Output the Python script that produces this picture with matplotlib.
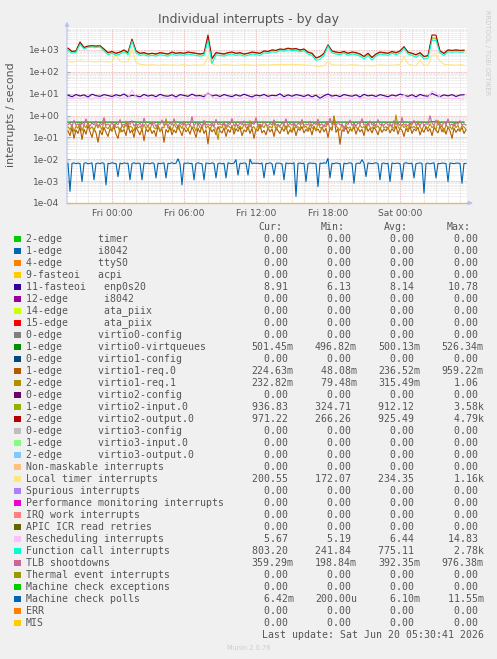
import matplotlib
matplotlib.use("Agg")
import matplotlib.pyplot as plt
import matplotlib.dates as mdates
from matplotlib.patches import Rectangle
from matplotlib.ticker import FixedLocator, FuncFormatter, LogLocator, NullFormatter
import pandas as pd

W, H = 497, 659

# ---------------- data ----------------
t20 = pd.date_range("2026-06-18 20:20", periods=100, freq="20min")
t10 = pd.date_range("2026-06-18 20:20", periods=200, freq="10min")

virtio2_output = [1200, 850, 900, 2300, 1300, 1500, 1550, 1500, 1550, 1100,
                  750, 850, 700, 800, 1000, 750, 3100, 900, 700, 750,
                  650, 700, 650, 750, 700, 650, 800, 700, 750, 700,
                  800, 750, 700, 650, 700, 4790, 400, 750, 700, 650,
                  750, 800, 700, 750, 650, 700, 800, 750, 700, 900,
                  850, 1000, 950, 1100, 1050, 1200, 1100, 1150, 1000, 1100,
                  800, 700, 430, 500, 700, 1700, 900, 800, 750, 850,
                  700, 800, 750, 650, 500, 700, 450, 650, 800, 750,
                  700, 850, 750, 900, 1400, 800, 700, 600, 750, 500,
                  550, 4790, 4700, 900, 700, 1000, 950, 1000, 950, 971]

virtio2_input = [1150, 820, 880, 2100, 1250, 1450, 1500, 1450, 1500, 1050,
                 720, 820, 680, 780, 960, 720, 2900, 870, 680, 720,
                 630, 680, 630, 720, 680, 630, 770, 680, 720, 680,
                 770, 720, 680, 630, 680, 3580, 390, 720, 680, 630,
                 720, 770, 680, 720, 630, 680, 770, 720, 680, 870,
                 820, 960, 920, 1060, 1010, 1150, 1060, 1110, 960, 1060,
                 770, 680, 420, 480, 680, 1600, 870, 770, 720, 820,
                 680, 770, 720, 630, 480, 680, 440, 630, 770, 720,
                 680, 820, 720, 870, 1350, 770, 680, 580, 720, 480,
                 530, 3500, 3400, 870, 680, 960, 920, 960, 920, 937]

function_call = [1000, 700, 760, 1800, 1100, 1300, 1350, 1300, 1350, 900,
                 600, 700, 560, 650, 820, 600, 2500, 720, 560, 600,
                 520, 560, 520, 600, 560, 520, 650, 560, 600, 560,
                 650, 600, 560, 520, 560, 2600, 242, 600, 560, 520,
                 600, 650, 560, 600, 520, 560, 650, 600, 560, 720,
                 700, 820, 780, 920, 870, 1000, 920, 960, 820, 920,
                 650, 560, 330, 380, 560, 1500, 720, 650, 600, 700,
                 560, 650, 600, 520, 380, 560, 340, 520, 650, 600,
                 560, 700, 600, 720, 1200, 650, 560, 460, 600, 380,
                 420, 2780, 2700, 720, 560, 820, 780, 820, 780, 803]

local_timer = [290, 280, 300, 310, 290, 300, 290, 280, 300, 290,
               280, 290, 600, 300, 280, 290, 1160, 260, 220, 210,
               200, 210, 200, 195, 210, 200, 205, 195, 200, 210,
               200, 195, 205, 200, 210, 500, 230, 200, 195, 210,
               205, 200, 195, 200, 210, 205, 200, 195, 205, 210,
               200, 215, 210, 220, 215, 210, 220, 215, 210, 205,
               200, 195, 180, 175, 190, 300, 210, 200, 205, 195,
               200, 210, 205, 195, 185, 200, 180, 195, 205, 200,
               195, 200, 205, 210, 500, 230, 200, 190, 330, 200,
               195, 560, 600, 300, 220, 210, 205, 200, 210, 200]

enp0s20 = [8.5, 7.2, 9.1, 7.8, 8.8, 7.0, 9.4, 8.1, 7.5, 9.0,
           8.2, 7.4, 8.9, 7.9, 9.6, 7.3, 8.4, 8.0, 7.1, 9.2,
           7.7, 8.6, 7.2, 9.3, 8.0, 7.6, 8.8, 7.0, 9.0, 8.3,
           7.5, 9.5, 7.9, 8.2, 7.2, 10.78, 7.8, 8.7, 7.4, 9.1,
           8.0, 7.3, 8.9, 7.7, 9.4, 8.1, 7.0, 8.6, 7.9, 9.2,
           7.5, 8.4, 8.0, 9.8, 7.2, 8.8, 7.6, 9.0, 8.3, 7.4,
           8.9, 7.1, 8.5, 6.13, 8.0, 9.6, 7.7, 8.4, 7.3, 9.1,
           8.2, 7.6, 8.8, 7.0, 9.3, 7.9, 8.5, 7.4, 9.0, 8.1,
           7.2, 8.7, 7.8, 9.5, 8.3, 7.5, 8.9, 7.1, 9.2, 8.0,
           7.6, 10.2, 8.4, 7.3, 8.8, 7.9, 9.0, 7.4, 8.6, 8.91]

rescheduling = [6.2, 5.8, 6.5, 5.6, 6.9, 6.0, 5.5, 6.3, 5.9, 6.6,
                5.7, 6.1, 7.5, 5.8, 6.4, 6.0, 14.83, 6.8, 5.6, 6.2,
                5.9, 6.5, 5.5, 6.1, 6.7, 5.8, 6.3, 5.6, 6.0, 6.6,
                5.7, 6.2, 5.9, 6.4, 5.5, 12.0, 6.9, 5.8, 6.3, 5.6,
                6.1, 6.6, 5.7, 6.0, 6.4, 5.9, 5.5, 6.2, 6.8, 5.8,
                6.3, 5.6, 6.0, 6.5, 5.7, 6.2, 5.9, 6.7, 5.6, 6.1,
                5.8, 6.4, 5.2, 5.5, 6.0, 7.8, 6.2, 5.7, 6.5, 5.9,
                6.1, 5.6, 6.3, 5.8, 6.6, 5.5, 6.0, 6.2, 5.7, 6.4,
                5.9, 6.1, 5.6, 6.3, 8.5, 5.8, 6.5, 5.7, 6.0, 5.6,
                6.2, 13.0, 11.0, 6.8, 5.9, 6.3, 5.7, 6.1, 5.8, 5.67]

virtqueues = [0.500, 0.501, 0.500, 0.499, 0.500, 0.502, 0.500, 0.501, 0.499, 0.500,
              0.500, 0.501, 0.500, 0.500, 0.499, 0.500, 0.526, 0.500, 0.501, 0.500,
              0.499, 0.500, 0.500, 0.501, 0.500, 0.499, 0.500, 0.501, 0.500, 0.500,
              0.500, 0.499, 0.501, 0.500, 0.500, 0.510, 0.500, 0.499, 0.500, 0.501,
              0.500, 0.500, 0.499, 0.500, 0.501, 0.500, 0.500, 0.499, 0.501, 0.500,
              0.500, 0.501, 0.500, 0.499, 0.500, 0.500, 0.501, 0.500, 0.499, 0.500,
              0.501, 0.500, 0.497, 0.500, 0.500, 0.505, 0.500, 0.499, 0.501, 0.500,
              0.500, 0.500, 0.499, 0.501, 0.500, 0.500, 0.499, 0.500, 0.501, 0.500,
              0.500, 0.499, 0.500, 0.501, 0.504, 0.500, 0.499, 0.500, 0.501, 0.500,
              0.500, 0.515, 0.512, 0.500, 0.499, 0.501, 0.500, 0.500, 0.499, 0.501]

tlb = [0.38, 0.45, 0.32, 0.60, 0.36, 0.42, 0.30, 0.48, 0.35, 0.70, 0.40, 0.33, 0.46, 0.37, 0.55, 0.31, 0.43, 0.38, 0.80, 0.36,
       0.41, 0.34, 0.50, 0.29, 0.44, 0.38, 0.65, 0.35, 0.40, 0.32, 0.47, 0.39, 0.58, 0.33, 0.42, 0.36, 0.45, 0.30, 0.75, 0.38,
       0.34, 0.46, 0.37, 0.52, 0.31, 0.43, 0.39, 0.62, 0.35, 0.41, 0.33, 0.48, 0.36, 0.70, 0.40, 0.32, 0.45, 0.38, 0.55, 0.34,
       0.42, 0.36, 0.90, 0.33, 0.47, 0.39, 0.44, 0.30, 0.60, 0.37, 0.41, 0.35, 0.49, 0.32, 0.66, 0.38, 0.43, 0.36, 0.51, 0.31,
       0.45, 0.38, 0.72, 0.34, 0.40, 0.33, 0.48, 0.37, 0.57, 0.35, 0.42, 0.30, 0.46, 0.39, 0.80, 0.36, 0.41, 0.34, 0.53, 0.38,
       0.33, 0.44, 0.37, 0.63, 0.35, 0.40, 0.32, 0.47, 0.38, 0.70, 0.34, 0.43, 0.36, 0.50, 0.31, 0.45, 0.39, 0.60, 0.35, 0.41,
       0.37, 0.55, 0.33, 0.46, 0.38, 0.68, 0.35, 0.42, 0.30, 0.49, 0.36, 0.75, 0.39, 0.43, 0.34, 0.52, 0.37, 0.41, 0.20, 0.45,
       0.38, 0.62, 0.35, 0.44, 0.32, 0.48, 0.39, 0.71, 0.36, 0.42, 0.34, 0.56, 0.37, 0.46, 0.33, 0.65, 0.38, 0.40, 0.35, 0.50,
       0.36, 0.43, 0.31, 0.58, 0.39, 0.45, 0.34, 0.82, 0.37, 0.41, 0.33, 0.49, 0.38, 0.60, 0.35, 0.44, 0.32, 0.54, 0.36, 0.42,
       0.39, 0.976, 0.45, 0.34, 0.62, 0.37, 0.43, 0.33, 0.52, 0.38, 0.70, 0.35, 0.41, 0.32, 0.47, 0.40, 0.58, 0.36, 0.42, 0.359]

req1 = [0.30, 0.22, 0.38, 0.18, 0.33, 0.26, 0.45, 0.20, 0.35, 0.28, 0.50, 0.24, 0.31, 0.19, 0.40, 0.27, 0.36, 0.21, 0.60, 0.29,
        0.25, 0.34, 0.20, 0.42, 0.28, 0.31, 0.17, 0.37, 0.26, 0.55, 0.23, 0.33, 0.29, 0.19, 0.44, 0.27, 0.32, 0.22, 0.39, 0.25,
        0.35, 0.21, 0.48, 0.28, 0.24, 0.38, 0.18, 0.30, 0.27, 0.70, 0.26, 0.33, 0.20, 0.41, 0.29, 0.23, 0.36, 0.25, 0.46, 0.30,
        0.22, 0.37, 0.27, 0.31, 0.19, 0.43, 0.28, 0.24, 0.52, 0.26, 0.34, 0.21, 0.39, 0.30, 0.25, 0.08, 0.32, 0.27, 0.45, 0.23,
        0.36, 0.28, 0.30, 0.20, 0.47, 0.26, 0.33, 0.24, 0.40, 0.29, 0.22, 0.58, 0.27, 0.31, 0.19, 0.38, 0.25, 0.35, 0.28, 0.42,
        0.24, 0.32, 0.27, 0.49, 0.21, 0.36, 0.29, 0.26, 0.40, 0.23, 0.34, 0.30, 0.18, 0.44, 0.27, 0.31, 0.25, 0.65, 0.28, 0.33,
        0.22, 0.39, 0.26, 0.30, 0.20, 0.46, 0.28, 0.25, 0.36, 0.31, 0.52, 0.24, 0.29, 0.90, 0.33, 0.27, 0.21, 0.41, 0.28, 0.35,
        0.26, 0.30, 0.19, 0.44, 0.29, 0.24, 0.37, 0.27, 0.32, 0.22, 0.48, 0.30, 0.25, 0.39, 0.28, 0.34, 0.21, 0.43, 0.27, 0.31,
        0.24, 0.38, 0.29, 0.26, 1.06, 0.31, 0.23, 0.40, 0.28, 0.35, 0.20, 0.45, 0.27, 0.32, 0.25, 0.55, 0.29, 0.22, 0.37, 0.30,
        0.26, 0.42, 0.28, 0.33, 0.21, 0.60, 0.29, 0.35, 0.17, 0.39, 0.27, 0.31, 0.23, 0.46, 0.28, 0.36, 0.20, 0.34, 0.30, 0.233]

req0 = [0.20, 0.12, 0.28, 0.09, 0.22, 0.15, 0.30, 0.08, 0.24, 0.14, 0.35, 0.18, 0.10, 0.26, 0.16, 0.06, 0.21, 0.13, 0.29, 0.17,
        0.11, 0.25, 0.19, 0.32, 0.14, 0.09, 0.27, 0.18, 0.23, 0.12, 0.40, 0.16, 0.22, 0.10, 0.30, 0.20, 0.13, 0.26, 0.07, 0.24,
        0.18, 0.28, 0.15, 0.21, 0.11, 0.34, 0.19, 0.25, 0.06, 0.23, 0.17, 0.29, 0.13, 0.22, 0.16, 0.36, 0.20, 0.12, 0.27, 0.18,
        0.24, 0.14, 0.30, 0.19, 0.10, 0.26, 0.17, 0.33, 0.15, 0.22, 0.05, 0.28, 0.18, 0.24, 0.13, 0.31, 0.20, 0.16, 0.27, 0.11,
        0.23, 0.17, 0.35, 0.14, 0.25, 0.19, 0.29, 0.12, 0.22, 0.18, 0.32, 0.15, 0.26, 0.09, 0.24, 0.20, 0.37, 0.16, 0.21, 0.13,
        0.28, 0.18, 0.24, 0.11, 0.30, 0.20, 0.15, 0.27, 0.19, 0.34, 0.14, 0.22, 0.17, 0.29, 0.12, 0.25, 0.21, 0.31, 0.16, 0.23,
        0.19, 0.27, 0.13, 0.33, 0.20, 0.24, 0.16, 0.30, 0.18, 0.26, 0.10, 0.28, 0.21, 0.959, 0.17, 0.25, 0.048, 0.22, 0.19, 0.29,
        0.15, 0.24, 0.20, 0.31, 0.14, 0.27, 0.18, 0.23, 0.12, 0.35, 0.19, 0.26, 0.16, 0.29, 0.21, 0.13, 0.28, 0.17, 0.24, 0.20,
        0.30, 0.16, 0.25, 0.19, 0.33, 0.14, 0.27, 0.21, 0.11, 0.26, 0.18, 0.32, 0.15, 0.24, 0.20, 0.29, 0.13, 0.23, 0.17, 0.31,
        0.19, 0.25, 0.12, 0.28, 0.21, 0.16, 0.34, 0.18, 0.26, 0.14, 0.30, 0.20, 0.09, 0.27, 0.17, 0.24, 0.19, 0.29, 0.15, 0.225]

# machine check polls, in units of 1e-3 per second
mc_polls_milli = [6.6, 0.34, 6.5, 6.8, 6.3, 6.7, 6.4, 0.95, 6.6, 6.9, 6.2, 6.5, 6.8, 1.15, 6.4, 6.7, 6.3, 6.9, 6.5, 0.68,
                  6.6, 6.3, 7.0, 6.5, 6.4, 1.6, 6.7, 6.2, 6.8, 6.5, 6.6, 1.15, 6.4, 6.9, 6.3, 6.7, 6.5, 1.15, 6.8, 6.4,
                  6.6, 6.2, 6.9, 6.5, 1.4, 6.7, 6.3, 6.6, 6.8, 1.4, 6.5, 6.4, 7.0, 6.3, 6.6, 10.5, 6.2, 0.68, 6.7, 6.5,
                  6.8, 6.3, 6.6, 1.15, 6.4, 6.9, 6.5, 6.2, 1.15, 6.7, 6.6, 6.3, 6.8, 6.5, 1.4, 6.4, 6.7, 6.2, 6.6, 1.4,
                  6.9, 6.5, 6.3, 6.7, 9.5, 1.9, 6.6, 6.4, 6.8, 6.5, 1.9, 10.0, 6.3, 6.7, 6.5, 6.6, 6.2, 6.8, 1.4, 6.5,
                  6.4, 6.9, 6.3, 1.9, 6.6, 6.7, 6.5, 6.2, 1.15, 6.8, 6.4, 6.6, 6.3, 6.9, 0.2, 6.5, 6.7, 6.4, 6.6, 0.95,
                  6.3, 6.8, 6.5, 6.6, 6.2, 0.56, 6.7, 6.4, 6.9, 6.5, 11.0, 1.4, 6.6, 6.3, 6.8, 6.5, 6.4, 1.15, 6.7, 6.2,
                  6.6, 6.9, 6.5, 0.8, 6.3, 6.7, 6.4, 9.5, 6.6, 1.6, 6.8, 6.5, 6.3, 6.6, 6.9, 6.4, 1.15, 6.5, 6.7, 6.2,
                  6.6, 0.95, 6.8, 6.4, 6.5, 6.7, 6.3, 1.15, 6.6, 6.9, 6.5, 6.4, 6.7, 1.4, 6.3, 6.6, 6.8, 6.5, 0.28, 6.4,
                  6.7, 6.2, 6.6, 6.9, 1.4, 6.5, 6.3, 6.7, 6.6, 6.4, 0.95, 6.8, 6.5, 6.3, 6.6, 6.7, 6.4, 0.8, 6.5, 6.42]

legend_labels = ["2-edge      timer", "1-edge      i8042", "4-edge      ttyS0",
                 "9-fasteoi   acpi", "11-fasteoi   enp0s20", "12-edge      i8042",
                 "14-edge      ata_piix", "15-edge      ata_piix",
                 "0-edge      virtio0-config", "1-edge      virtio0-virtqueues",
                 "0-edge      virtio1-config", "1-edge      virtio1-req.0",
                 "2-edge      virtio1-req.1", "0-edge      virtio2-config",
                 "1-edge      virtio2-input.0", "2-edge      virtio2-output.0",
                 "0-edge      virtio3-config", "1-edge      virtio3-input.0",
                 "2-edge      virtio3-output.0", "Non-maskable interrupts",
                 "Local timer interrupts", "Spurious interrupts",
                 "Performance monitoring interrupts", "IRQ work interrupts",
                 "APIC ICR read retries", "Rescheduling interrupts",
                 "Function call interrupts", "TLB shootdowns",
                 "Thermal event interrupts", "Machine check exceptions",
                 "Machine check polls", "ERR", "MIS"]

legend_colors = ["#00CC00", "#0066B3", "#FF8000", "#FFCC00", "#330099", "#990099",
                 "#CCFF00", "#FF0000", "#808080", "#008F00", "#00487D", "#B35A00",
                 "#B38F00", "#6B006B", "#8FB300", "#B30000", "#BEBEBE", "#80FF80",
                 "#80C9FF", "#FFC080", "#FFE680", "#AA80FF", "#EE00CC", "#FF8080",
                 "#666600", "#FFBFFF", "#00FFCC", "#CC6699", "#999900", "#00CC00",
                 "#0066B3", "#FF8000", "#FFCC00"]

cur_vals = ["0.00", "0.00", "0.00", "0.00", "8.91", "0.00", "0.00", "0.00", "0.00",
            "501.45m", "0.00", "224.63m", "232.82m", "0.00", "936.83", "971.22",
            "0.00", "0.00", "0.00", "0.00", "200.55", "0.00", "0.00", "0.00", "0.00",
            "5.67", "803.20", "359.29m", "0.00", "0.00", "6.42m", "0.00", "0.00"]
min_vals = ["0.00", "0.00", "0.00", "0.00", "6.13", "0.00", "0.00", "0.00", "0.00",
            "496.82m", "0.00", "48.08m", "79.48m", "0.00", "324.71", "266.26",
            "0.00", "0.00", "0.00", "0.00", "172.07", "0.00", "0.00", "0.00", "0.00",
            "5.19", "241.84", "198.84m", "0.00", "0.00", "200.00u", "0.00", "0.00"]
avg_vals = ["0.00", "0.00", "0.00", "0.00", "8.14", "0.00", "0.00", "0.00", "0.00",
            "500.13m", "0.00", "236.52m", "315.49m", "0.00", "912.12", "925.49",
            "0.00", "0.00", "0.00", "0.00", "234.35", "0.00", "0.00", "0.00", "0.00",
            "6.44", "775.11", "392.35m", "0.00", "0.00", "6.10m", "0.00", "0.00"]
max_vals = ["0.00", "0.00", "0.00", "0.00", "10.78", "0.00", "0.00", "0.00", "0.00",
            "526.34m", "0.00", "959.22m", "1.06", "0.00", "3.58k", "4.79k",
            "0.00", "0.00", "0.00", "0.00", "1.16k", "0.00", "0.00", "0.00", "0.00",
            "14.83", "2.78k", "976.38m", "0.00", "0.00", "11.55m", "0.00", "0.00"]

xtick_times = ["2026-06-19 00:00", "2026-06-19 06:00", "2026-06-19 12:00",
               "2026-06-19 18:00", "2026-06-20 00:00"]
ytick_values = [1e-4, 1e-3, 1e-2, 1e-1, 1e0, 1e1, 1e2, 1e3]

# ---------------- figure ----------------
BG = "#F0F0F0"
TXT = "#555555"
fig = plt.figure(figsize=(W / 100, H / 100), dpi=100, facecolor=BG)

def fx(x):
    return x / W

def fy(y):
    return 1 - y / H

ax = fig.add_axes([fx(67), fy(203), 400 / W, 175 / H])
ax.set_facecolor("white")
ax.set_yscale("log")
ax.set_ylim(1e-4, 1e4)
ax.set_xlim(pd.Timestamp("2026-06-18 20:15"), pd.Timestamp("2026-06-20 05:35"))

# grid
ax.xaxis.set_major_locator(FixedLocator(mdates.date2num(pd.to_datetime(xtick_times))))
ax.xaxis.set_major_formatter(mdates.DateFormatter("%a %H:%M"))
ax.xaxis.set_minor_locator(mdates.HourLocator())
ax.yaxis.set_major_locator(FixedLocator(ytick_values))
ax.yaxis.set_major_formatter(FuncFormatter(lambda v, p: f"{v:.0e}"))
ax.yaxis.set_minor_locator(LogLocator(base=10, subs=(2, 3, 4, 5, 6, 7, 8, 9), numticks=20))
ax.yaxis.set_minor_formatter(NullFormatter())

ax.grid(which="minor", axis="y", color="#D6D6D6", linestyle=(0, (1, 1)), lw=0.5)
ax.grid(which="minor", axis="x", color="#DCCACA", linestyle=(0, (1, 1)), lw=0.5)
ax.grid(which="major", axis="x", color="#E4A4A4", linestyle=(0, (1, 1)), lw=0.6)
ax.grid(which="major", axis="y", color="#E4A4A4", linestyle=(0, (1, 1)), lw=0.6)
ax.set_axisbelow(True)

for s in ax.spines.values():
    s.set_visible(False)

ax.tick_params(axis="y", which="major", direction="in", length=2, color="#AAAAAA",
               labelsize=6.6, labelcolor=TXT, pad=5.5)
ax.tick_params(axis="y", which="minor", direction="in", length=1, color="#CCCCCC")
ax.tick_params(axis="x", which="both", length=0, labelsize=6.6, labelcolor=TXT, pad=4.5)

# series, drawn in legend order (later ones on top)
lw = 0.8
ax.plot(t20, enp0s20, color="#330099", lw=lw, zorder=4)
ax.plot(t20, virtqueues, color="#008F00", lw=0.9, zorder=9)
ax.plot(t10, req0, color="#B35A00", lw=lw, zorder=11)
ax.plot(t10, req1, color="#B38F00", lw=lw, zorder=12)
ax.plot(t20, virtio2_input, color="#8FB300", lw=lw, zorder=14)
ax.plot(t20, virtio2_output, color="#B30000", lw=lw, zorder=15)
ax.plot(t20, local_timer, color="#FFE680", lw=lw, zorder=20)
ax.plot(t20, rescheduling, color="#FFBFFF", lw=lw, zorder=25)
ax.plot(t20, function_call, color="#00FFCC", lw=lw, zorder=26)
ax.plot(t10, tlb, color="#CC6699", lw=lw, zorder=27)
ax.plot(t10, [v * 1e-3 for v in mc_polls_milli], color="#0066B3", lw=lw, zorder=30)

# zero-valued series clip onto the floor of the graph
ax.axhline(1e-4, color="#DDB878", lw=1.0, zorder=31, clip_on=False)

# axis arrows
AX_C = "#B8C2EE"
ax.annotate("", xy=(0, 1.036), xytext=(0, 0), xycoords="axes fraction",
            arrowprops=dict(arrowstyle="-|>", color=AX_C, lw=0.8, mutation_scale=6,
                            shrinkA=0, shrinkB=0), annotation_clip=False)
ax.annotate("", xy=(1.015, 0), xytext=(1.0, 0), xycoords="axes fraction",
            arrowprops=dict(arrowstyle="-|>", color=AX_C, lw=0.8, mutation_scale=6,
                            shrinkA=0, shrinkB=0), annotation_clip=False)

# titles & labels
fig.text(fx(248.5), fy(19), "Individual interrupts - by day", ha="center", va="center",
         fontsize=9, color=TXT, family="DejaVu Sans")
fig.text(fx(11), fy(115), "interrupts / second", ha="center", va="center",
         rotation=90, fontsize=7.9, color=TXT, family="DejaVu Sans")
fig.text(fx(487), fy(53), "RRDTOOL / TOBI OETIKER", ha="center", va="center",
         rotation=270, fontsize=4.8, color="#CCCCCC", family="DejaVu Sans")
fig.text(fx(248.5), fy(648), "Munin 2.0.76", ha="center", va="center",
         fontsize=4.8, color="#CCCCCC", family="DejaVu Sans")

# legend
MONO = "DejaVu Sans Mono"
FS = 7.1
for x, h in zip([258, 321, 384, 447], ["Cur:", "Min:", "Avg:", "Max:"]):
    fig.text(fx(x), fy(227), h, ha="left", va="center", fontsize=FS, color=TXT, family=MONO)

def fmt(s):
    if s[-1].isalpha():
        return f"{s[:-1]:>6}{s[-1]}"
    return f"{s:>6} "

for k, (lab, col) in enumerate(zip(legend_labels, legend_colors)):
    y = 239 + 12 * k
    fig.patches.append(Rectangle((fx(14), fy(y + 3.3)), 6.5 / W, 6.5 / H, transform=fig.transFigure,
                                 facecolor=col, edgecolor="none"))
    fig.text(fx(26), fy(y), lab, ha="left", va="center", fontsize=FS, color=TXT, family=MONO)
    for x, vals in zip([251.7, 315, 378.3, 441.7], [cur_vals, min_vals, avg_vals, max_vals]):
        fig.text(fx(x), fy(y), fmt(vals[k]), ha="left", va="center", fontsize=FS,
                 color=TXT, family=MONO)

fig.text(fx(261.5), fy(635), "Last update: Sat Jun 20 05:30:41 2026", ha="left", va="center",
         fontsize=FS, color=TXT, family=MONO)

fig.savefig("out.png", dpi=100, facecolor=BG)
